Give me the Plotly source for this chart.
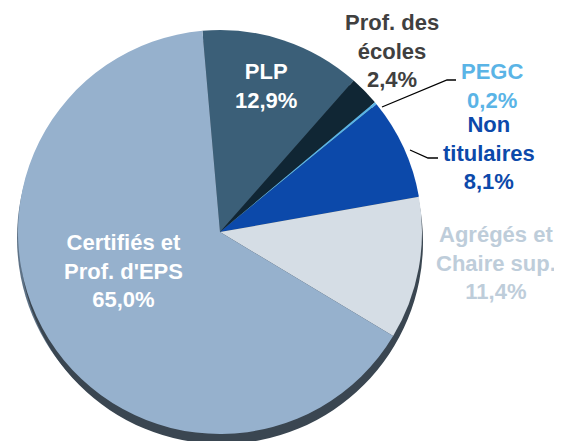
import plotly.graph_objects as go

# ---- data ----
categories = ["PLP", "Prof. des<br>écoles", "PEGC", "Non<br>titulaires",
              "Agrégés et<br>Chaire sup.", "Certifiés et<br>Prof. d'EPS"]
values = [12.9, 2.4, 0.2, 8.1, 11.4, 65.0]
value_labels = ["12,9%", "2,4%", "0,2%", "8,1%", "11,4%", "65,0%"]

slice_colors = ["#3B5F78", "#102634", "#5AB4E6", "#0C49AA", "#D5DDE5", "#96B1CD"]
label_colors = ["#FFFFFF", "#404040", "#5AB4E6", "#0C49AA", "#BECDDA", "#FFFFFF"]
# label centres in page pixels (x, y from top)
label_pos = [(266, 86), (392, 51), (492, 86), (489, 153), (496, 263), (123, 271)]

W, H = 562, 441
OFF = 8  # page body margin
cx, cy, r = 220, 232, 202


def px(x):
    return (x - OFF) / W


def py(y):
    return 1 - (y - OFF) / H


fig = go.Figure()
fig.add_trace(go.Pie(
    labels=categories, values=values, sort=False, direction="clockwise",
    rotation=-5, marker=dict(colors=slice_colors, line=dict(width=0)),
    textinfo="none", hoverinfo="skip", showlegend=False,
    domain=dict(x=[px(cx - r), px(cx + r)], y=[py(cy + r), py(cy - r)]),
))

shapes = [
    # 3-D depth edge under the pie
    dict(type="circle", xref="paper", yref="paper", layer="below",
         x0=px(cx - r - 1), x1=px(cx + r - 3), y0=py(cy + r + 6), y1=py(cy - r + 6),
         fillcolor="#5E7286", line=dict(width=0)),
    dict(type="circle", xref="paper", yref="paper", layer="below",
         x0=px(cx - r + 2), x1=px(cx + r + 1), y0=py(cy + r + 10), y1=py(cy - r + 10),
         fillcolor="#3A4651", line=dict(width=0)),
    # leader lines
    dict(type="path", xref="paper", yref="paper",
         path=f"M {px(382)},{py(107)} L {px(447)},{py(80)} L {px(456)},{py(80)}",
         line=dict(color="#000000", width=1.3)),
    dict(type="path", xref="paper", yref="paper",
         path=f"M {px(410)},{py(150)} L {px(428)},{py(158)} L {px(438)},{py(158)}",
         line=dict(color="#000000", width=1.3)),
]

annotations = []
for cat, lab, col, (x, y) in zip(categories, value_labels, label_colors, label_pos):
    annotations.append(dict(
        x=px(x), y=py(y), xref="paper", yref="paper",
        xanchor="center", yanchor="middle", showarrow=False,
        text=f"<b>{cat}<br>{lab}</b>", align="center",
        font=dict(family="Liberation Sans, Arial, sans-serif", size=22, color=col),
    ))

fig.update_layout(
    width=W, height=H, margin=dict(l=0, r=0, t=0, b=0),
    paper_bgcolor="white", plot_bgcolor="white",
    shapes=shapes, annotations=annotations, showlegend=False,
)

fig.write_html("out.html")
